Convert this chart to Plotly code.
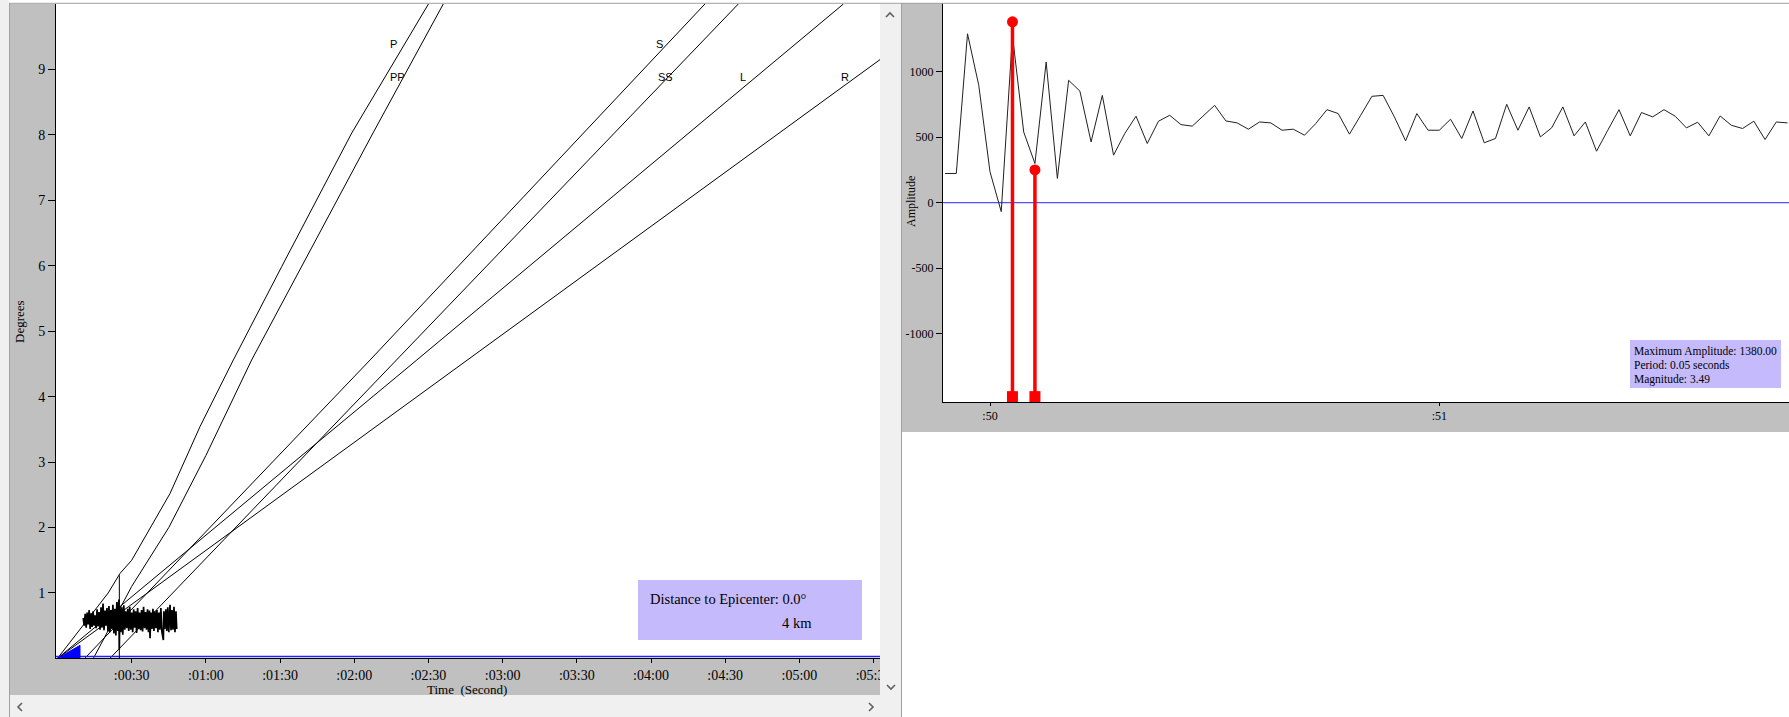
import plotly.graph_objects as go

# ---------------- DATA ----------------
# Left panel: travel-time curves (time in seconds, distance in degrees)
p_time = [0, 20.5, 25.3, 30, 45.5, 57.6, 71.1, 90.7, 119, 150]
p_deg = [0, 1.0, 1.3, 1.5, 2.52, 3.54, 4.56, 5.99, 8.03, 10.0]
pp_time = [14.5, 30, 45, 60, 78.5, 98.8, 127.6, 156]
pp_deg = [0, 1.1, 2.0, 3.1, 4.56, 5.99, 8.03, 10.0]
s_time = [11, 126.4, 261.8]
s_deg = [0, 4.56, 10.0]
ss_time = [21.2, 137.2, 275.3]
ss_deg = [0, 4.56, 10.0]
l_time = [0, 145.3, 317.8]
l_deg = [0, 4.56, 10.0]
r_time = [0, 165.5, 332.6]
r_deg = [0, 4.56, 9.15]

phase_names = ["P", "PP", "S", "SS", "L", "R"]
phase_label_time = [135.7, 137.4, 243.6, 245.7, 277.1, 318.5]
phase_label_deg = [9.39, 8.89, 9.39, 8.88, 8.88, 8.88]

cursor_time = [25.0, 25.0]
cursor_deg = [0, 1.27]

wedge_time = [0, 9.1, 9.1, 0]
wedge_deg = [0, 0.2, 0, 0]

baseline_time = [-0.6, 332.6]
baseline_deg = [0.03, 0.03]

# Dense seismogram trace drawn on the left panel
seis_time = [10.4, 10.8, 11.2, 11.6, 12.0, 12.4, 12.8, 13.2, 13.6, 14.0,
             14.4, 14.8, 15.2, 15.6, 16.0, 16.4, 16.8, 17.2, 17.6, 18.0,
             18.4, 18.8, 19.2, 19.6, 20.0, 20.4, 20.8, 21.2, 21.6, 22.0,
             22.4, 22.8, 23.2, 23.6, 24.0, 24.4, 24.8, 25.0, 25.2, 25.6,
             26.0, 26.4, 26.8, 27.2, 27.6, 28.0, 28.4, 28.8, 29.2, 29.6,
             30.0, 30.4, 30.8, 31.2, 31.6, 32.0, 32.4, 32.8, 33.2, 33.6,
             34.0, 34.4, 34.8, 35.2, 35.6, 36.0, 36.4, 36.8, 37.2, 37.4,
             37.8, 38.2, 38.6, 39.0, 39.4, 39.8, 40.2, 40.6, 41.0, 41.4,
             41.8, 42.2, 42.8, 43.0, 43.4, 43.8, 44.2, 44.6, 45.0, 45.5,
             45.9, 46.3, 46.7, 47.1, 47.5, 47.9, 48.2]
seis_deg = [0.62, 0.50, 0.68, 0.47, 0.70, 0.52, 0.74, 0.45, 0.69, 0.48,
            0.72, 0.50, 0.66, 0.46, 0.75, 0.49, 0.71, 0.44, 0.78, 0.47,
            0.84, 0.43, 0.73, 0.50, 0.77, 0.41, 0.80, 0.40, 0.74, 0.45,
            0.82, 0.38, 0.76, 0.35, 0.86, 0.42, 0.90, 0.14, 0.80, 0.40,
            0.78, 0.36, 0.81, 0.44, 0.72, 0.46, 0.76, 0.42, 0.79, 0.44,
            0.70, 0.40, 0.75, 0.47, 0.72, 0.39, 0.77, 0.45, 0.70, 0.43,
            0.74, 0.41, 0.79, 0.46, 0.71, 0.44, 0.75, 0.40, 0.73, 0.31,
            0.70, 0.45, 0.76, 0.42, 0.72, 0.46, 0.74, 0.40, 0.70, 0.44,
            0.77, 0.41, 0.28, 0.72, 0.45, 0.75, 0.42, 0.78, 0.40, 0.82,
            0.43, 0.74, 0.44, 0.79, 0.40, 0.72, 0.45]

left_xticks = [30, 60, 90, 120, 150, 180, 210, 240, 270, 300, 330]
left_xlabels = [":00:30", ":01:00", ":01:30", ":02:00", ":02:30", ":03:00",
                ":03:30", ":04:00", ":04:30", ":05:00", ":05:30"]
left_yticks = [1, 2, 3, 4, 5, 6, 7, 8, 9]

# Right panel: zoomed waveform (time in seconds, amplitude)
wave_time = [49.900, 49.925, 49.950, 49.975, 50.000, 50.025, 50.050, 50.075,
             50.100, 50.125, 50.150, 50.175, 50.200, 50.225, 50.250, 50.275,
             50.300, 50.325, 50.350, 50.375, 50.400, 50.425, 50.450, 50.475,
             50.500, 50.525, 50.550, 50.575, 50.600, 50.625, 50.650, 50.675,
             50.700, 50.725, 50.750, 50.775, 50.800, 50.825, 50.850, 50.875,
             50.900, 50.925, 50.950, 50.975, 51.000, 51.025, 51.050, 51.075,
             51.100, 51.125, 51.150, 51.175, 51.200, 51.225, 51.250, 51.275,
             51.300, 51.325, 51.350, 51.375, 51.400, 51.425, 51.450, 51.475,
             51.500, 51.525, 51.550, 51.575, 51.600, 51.625, 51.650, 51.675,
             51.700, 51.725, 51.750, 51.775]
wave_amp = [223, 223, 1289, 896, 236, -68, 1276, 540,
            299, 1073, 185, 934, 852, 464, 819, 363,
            528, 660, 452, 622, 667, 596, 584, 667,
            743, 624, 609, 561, 616, 609, 553, 561,
            515, 604, 710, 680, 523, 667, 812, 819,
            655, 472, 680, 553, 553, 637, 490, 700,
            457, 490, 751, 553, 731, 502, 571, 731,
            510, 616, 393, 553, 710, 510, 688, 655,
            710, 660, 571, 614, 510, 662, 591, 566,
            622, 482, 616, 609]

stem_time = [50.05, 50.10]
stem_amp = [1380, 250]
stem_base = -1480

right_xticks = [50, 51]
right_xlabels = [":50", ":51"]
right_yticks = [-1000, -500, 0, 500, 1000]

info_lines = ["Maximum Amplitude: 1380.00", "Period: 0.05 seconds", "Magnitude: 3.49"]
distance_lines = ["Distance to Epicenter: 0.0°", "4 km"]

# ---------------- FIGURE ----------------
W, H = 1789, 717


def px(x):
    return x / W


def py(y):
    return (H - y) / H


SERIF = "Liberation Serif"
SANS = "Liberation Sans"
GRAY = "#c0c0c0"
LIGHT = "#f0f0f0"
LAV = "rgb(197,187,252)"

fig = go.Figure()

# Left panel traces
for tx, dy in [(p_time, p_deg), (pp_time, pp_deg), (s_time, s_deg),
               (ss_time, ss_deg), (l_time, l_deg), (r_time, r_deg)]:
    fig.add_trace(go.Scatter(x=tx, y=dy, mode="lines",
                             line=dict(color="black", width=1),
                             xaxis="x", yaxis="y", hoverinfo="skip"))

fig.add_trace(go.Scatter(x=baseline_time, y=baseline_deg, mode="lines",
                         line=dict(color="#2020ff", width=1.5),
                         xaxis="x", yaxis="y", hoverinfo="skip"))
fig.add_trace(go.Scatter(x=wedge_time, y=wedge_deg, mode="lines", fill="toself",
                         fillcolor="#0000ff", line=dict(color="#0000ff", width=1),
                         xaxis="x", yaxis="y", hoverinfo="skip"))
fig.add_trace(go.Scatter(x=cursor_time, y=cursor_deg, mode="lines",
                         line=dict(color="black", width=1),
                         xaxis="x", yaxis="y", hoverinfo="skip"))
fig.add_trace(go.Scatter(x=seis_time, y=seis_deg, mode="lines",
                         line=dict(color="black", width=1.7),
                         xaxis="x", yaxis="y", hoverinfo="skip"))

# Right panel traces
fig.add_trace(go.Scatter(x=[49.8954, 51.7783], y=[0, 0], mode="lines",
                         line=dict(color="#5050ff", width=1.2),
                         xaxis="x2", yaxis="y2", hoverinfo="skip"))
fig.add_trace(go.Scatter(x=wave_time, y=wave_amp, mode="lines",
                         line=dict(color="#202020", width=1),
                         xaxis="x2", yaxis="y2", hoverinfo="skip"))
for st, sa in zip(stem_time, stem_amp):
    fig.add_trace(go.Scatter(x=[st, st], y=[stem_base, sa], mode="lines",
                             line=dict(color="#ff0000", width=3.5),
                             xaxis="x2", yaxis="y2", hoverinfo="skip"))
fig.add_trace(go.Scatter(x=stem_time, y=stem_amp, mode="markers",
                         marker=dict(color="#ff0000", size=11, symbol="circle"),
                         xaxis="x2", yaxis="y2", hoverinfo="skip"))
fig.add_trace(go.Scatter(x=stem_time, y=[stem_base] * len(stem_time), mode="markers",
                         marker=dict(color="#ff0000", size=11, symbol="square"),
                         xaxis="x2", yaxis="y2", hoverinfo="skip"))

annotations = []
for name, t, d in zip(phase_names, phase_label_time, phase_label_deg):
    annotations.append(dict(x=t, y=d, xref="x", yref="y", text=name, showarrow=False,
                            xanchor="center", yanchor="middle",
                            font=dict(family=SANS, size=11, color="black")))


def note(x, y, text, size, xanchor="center", angle=0):
    return dict(x=px(x), y=py(y), xref="paper", yref="paper", text=text,
                showarrow=False, xanchor=xanchor, yanchor="middle", textangle=angle,
                font=dict(family=SERIF, size=size, color="black"))


# axis titles
annotations.append(note(20, 322, "Degrees", 13, angle=-90))
annotations.append(note(467, 689, "Time&nbsp;&nbsp;(Second)", 13))
annotations.append(note(911, 202, "Amplitude", 12, angle=-90))
# distance box text
annotations.append(note(648, 599, distance_lines[0], 14.5, xanchor="left"))
annotations.append(note(780, 623, distance_lines[1], 14.5, xanchor="left"))
# info box text
for i, line in enumerate(info_lines):
    annotations.append(note(1632, 351 + 14.2 * i, line, 11.5, xanchor="left"))


def rect(x0, y0, x1, y1, fill, layer="below"):
    return dict(type="rect", xref="paper", yref="paper", x0=px(x0), x1=px(x1),
                y0=py(y1), y1=py(y0), fillcolor=fill, layer=layer,
                line=dict(width=0))


def seg(x0, y0, x1, y1, color="#a0a0a0", width=1):
    return dict(type="line", xref="paper", yref="paper", x0=px(x0), x1=px(x1),
                y0=py(y0), y1=py(y1), line=dict(color=color, width=width), layer="above")


def chevron(points):
    path = "M " + " L ".join(f"{px(a):.5f} {py(b):.5f}" for a, b in points)
    return dict(type="path", xref="paper", yref="paper", path=path,
                line=dict(color="#606060", width=1.6), layer="above")


shapes = [
    rect(0, 0, 9, 717, LIGHT),
    rect(10, 4, 56, 695, GRAY),
    rect(56, 659, 880, 695, GRAY),
    rect(10, 695, 880, 717, LIGHT, "above"),
    rect(880, 4, 901, 717, LIGHT, "above"),
    rect(902, 3, 943, 432, GRAY),
    rect(943, 403, 1789, 432, GRAY),
    seg(9.5, 3, 9.5, 717),
    seg(901.5, 3, 901.5, 717),
    seg(9, 3.3, 1789, 3.3),
    # text boxes
    dict(type="rect", xref="paper", yref="paper", x0=px(638), x1=px(862),
         y0=py(640), y1=py(580), fillcolor=LAV, line=dict(width=0), layer="above"),
    dict(type="rect", xref="paper", yref="paper", x0=px(1630), x1=px(1781),
         y0=py(388), y1=py(340), fillcolor=LAV, line=dict(width=0), layer="above"),
    # scrollbar arrows
    chevron([(886, 17), (890, 13), (894, 17)]),
    chevron([(887, 685), (891, 689), (895, 685)]),
    chevron([(22, 703), (18, 707), (22, 711)]),
    chevron([(869, 703), (873, 707), (869, 711)]),
]

axis_common = dict(showgrid=False, zeroline=False, showline=True, linecolor="black",
                   linewidth=1, ticks="outside", tickcolor="black", tickwidth=1,
                   automargin=False)

fig.update_layout(
    width=W, height=H, autosize=False, margin=dict(l=0, r=0, t=0, b=0, pad=0),
    paper_bgcolor="white", plot_bgcolor="white", showlegend=False,
    xaxis=dict(domain=[px(56), px(880)], range=[-0.61, 332.6], anchor="y",
               tickmode="array", tickvals=left_xticks, ticktext=left_xlabels,
               ticklen=4, tickfont=dict(family=SERIF, size=14, color="black"),
               **axis_common),
    yaxis=dict(domain=[py(658.4), py(4)], range=[0, 10.0], anchor="x",
               tickmode="array", tickvals=left_yticks,
               ticktext=[str(v) for v in left_yticks],
               ticklen=7, tickfont=dict(family=SERIF, size=14, color="black"),
               **axis_common),
    xaxis2=dict(domain=[px(943), 1.0], range=[49.8954, 51.7783], anchor="y2",
                tickmode="array", tickvals=right_xticks, ticktext=right_xlabels,
                ticklen=3, tickfont=dict(family=SERIF, size=12, color="black"),
                **axis_common),
    yaxis2=dict(domain=[py(402), py(3)], range=[-1521, 1524], anchor="x2",
                tickmode="array", tickvals=right_yticks,
                ticktext=[str(v) for v in right_yticks],
                ticklen=6, tickfont=dict(family=SERIF, size=12, color="black"),
                **axis_common),
    annotations=annotations,
    shapes=shapes,
)

fig.write_html("out.html",
               config={"displayModeBar": False, "responsive": False},
               post_script="document.body.style.margin='0px';"
                           "document.body.style.overflow='hidden';")
